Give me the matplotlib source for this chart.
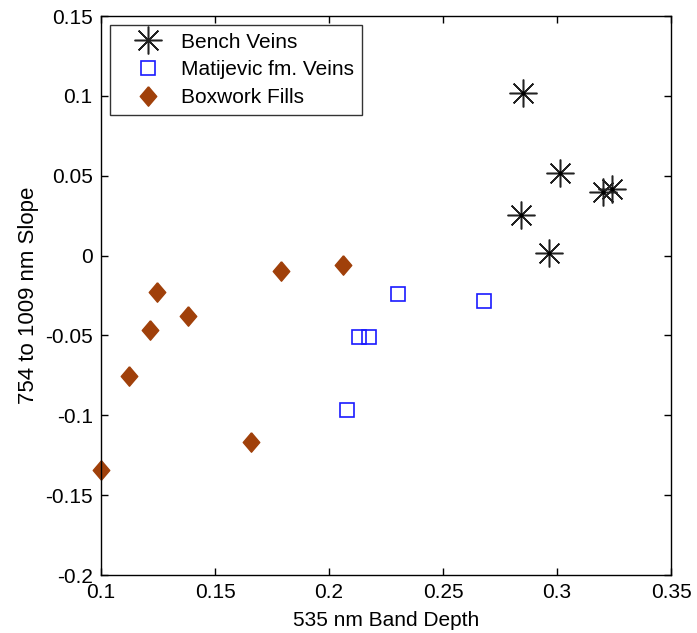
import numpy as np
import matplotlib.pyplot as plt
from matplotlib.lines import Line2D

plt.rcParams['font.family'] = ['Liberation Sans', 'DejaVu Sans']

# Bench Veins
bench_x = [0.2852, 0.3013, 0.3203, 0.3240, 0.2841, 0.2965]
bench_y = [0.1016, 0.0519, 0.0400, 0.0417, 0.0254, 0.0018]

# Matijevic fm. Veins
matij_x = [0.2078, 0.2133, 0.2177, 0.2303, 0.2680]
matij_y = [-0.0965, -0.0510, -0.0510, -0.0241, -0.0285]

# Boxwork Fills
box_x = [0.1000, 0.1123, 0.1216, 0.1247, 0.1383, 0.1658, 0.1788, 0.2063]
box_y = [-0.1343, -0.0752, -0.0466, -0.0228, -0.0377, -0.1167, -0.0099, -0.0057]

xticks = [0.1, 0.15, 0.2, 0.25, 0.3, 0.35]
yticks = [-0.2, -0.15, -0.1, -0.05, 0, 0.05, 0.1, 0.15]

brown = '#a0400a'
blue = '#1a1aff'
star = (8, 2, 0)  # 8-spoke asterisk like matlab's '*'
diamond = [(0, 1), (0.85, 0), (0, -1), (-0.85, 0), (0, 1)]

fig = plt.figure(figsize=(6.97, 6.33), dpi=100)
ax = fig.add_axes([0.145, 0.0916, 0.818, 0.883])

ax.plot(bench_x, bench_y, linestyle='none', marker=star, markersize=20,
        markeredgewidth=1.1, color='#222222', clip_on=False)
ax.plot(bench_x, bench_y, linestyle='none', marker='.', markersize=4,
        color='black', clip_on=False)
ax.plot(matij_x, matij_y, linestyle='none', marker='s', markersize=9.5,
        markerfacecolor='none', markeredgecolor=blue, markeredgewidth=1.2)
ax.plot(box_x, box_y, linestyle='none', marker=diamond, markersize=14,
        color=brown, clip_on=False)

ax.set_xlim(0.1, 0.35)
ax.set_ylim(-0.2, 0.15)
ax.set_xticks(xticks)
ax.set_xticklabels([f'{t:g}' for t in xticks])
ax.set_yticks(yticks)
ax.set_yticklabels([f'{t:g}' for t in yticks])
ax.tick_params(direction='in', length=5, width=1, labelsize=15, pad=6,
               top=True, right=True, labeltop=False, labelright=False)
for spine in ax.spines.values():
    spine.set_linewidth(1)

ax.set_xlabel('535 nm Band Depth', fontsize=15, labelpad=6)
ax.set_ylabel('754 to 1009 nm Slope', fontsize=16, labelpad=4)

handles = [
    Line2D([], [], linestyle='none', marker=star, markersize=20,
           markeredgewidth=1.1, color='#222222'),
    Line2D([], [], linestyle='none', marker='s', markersize=9.5,
           markerfacecolor='none', markeredgecolor=blue, markeredgewidth=1.2),
    Line2D([], [], linestyle='none', marker=diamond, markersize=14, color=brown),
]
leg = ax.legend(handles, ['Bench Veins', 'Matijevic fm. Veins', 'Boxwork Fills'],
                loc='upper left', fontsize=15, frameon=True, fancybox=False,
                edgecolor='black', borderpad=0.35, labelspacing=0.42,
                handletextpad=0.15, borderaxespad=0.45, handlelength=2.9)
leg.get_frame().set_linewidth(1)

fig.savefig('out.png', dpi=100)
